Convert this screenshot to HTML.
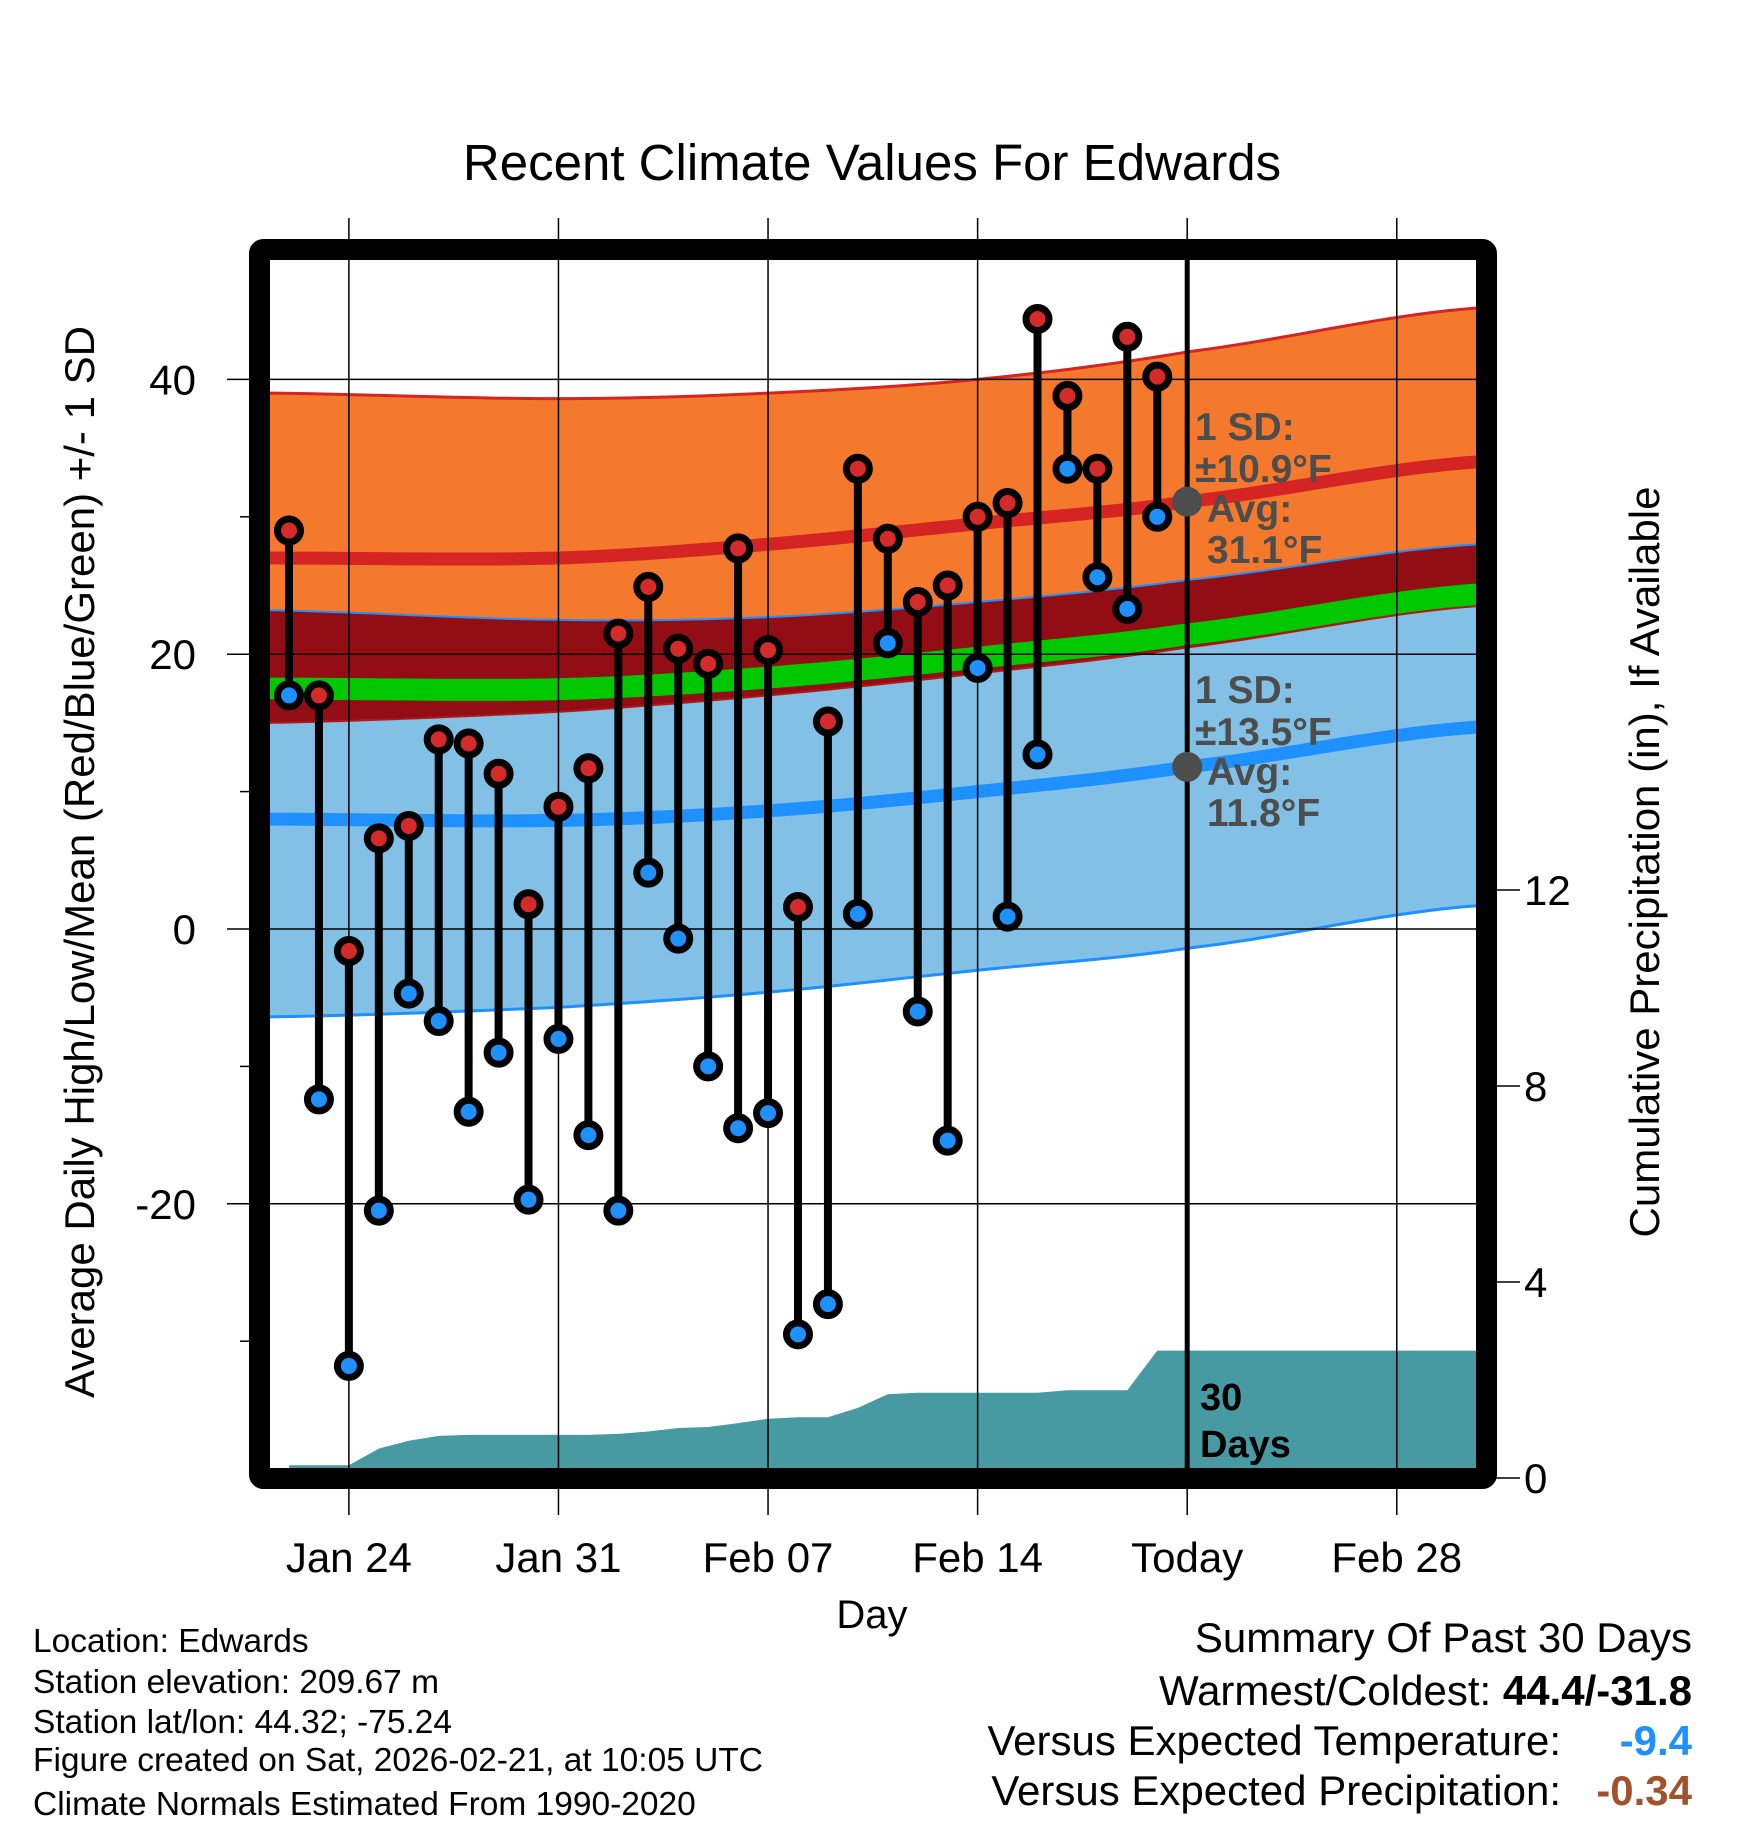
<!DOCTYPE html>
<html><head><meta charset="utf-8"><style>
body{margin:0;background:#fff}
svg{display:block;font-family:"Liberation Sans",Arial,sans-serif}
</style></head><body>
<svg id="c" width="1748" height="1828" viewBox="0 0 1748 1828">
<text x="872" y="180" font-size="51" text-anchor="middle">Recent Climate Values For Edwards</text>
<g id="plot"></g>
<text x="872" y="1628" font-size="40" text-anchor="middle">Day</text>
<text transform="translate(94,862) rotate(-90)" font-size="42" text-anchor="middle">Average Daily High/Low/Mean (Red/Blue/Green) +/- 1 SD</text>
<text transform="translate(1659,862) rotate(-90)" font-size="42" text-anchor="middle">Cumulative Precipitation (in), If Available</text>
<g font-size="33.5">
<text x="33" y="1652">Location: Edwards</text>
<text x="33" y="1693">Station elevation: 209.67 m</text>
<text x="33" y="1733">Station lat/lon: 44.32; -75.24</text>
<text x="33" y="1771">Figure created on Sat, 2026-02-21, at 10:05 UTC</text>
<text x="33" y="1815">Climate Normals Estimated From 1990-2020</text>
</g>
<g font-size="42" text-anchor="end">
<text x="1692" y="1652">Summary Of Past 30 Days</text>
<text x="1692" y="1705">Warmest/Coldest: <tspan font-weight="bold">44.4/-31.8</tspan></text>
<text x="1561" y="1755">Versus Expected Temperature:</text>
<text x="1692" y="1755" fill="#1e90ff" font-weight="bold">-9.4</text>
<text x="1561" y="1805">Versus Expected Precipitation:</text>
<text x="1692" y="1805" fill="#a0522d" font-weight="bold">-0.34</text>
</g>
</svg>
<script>
const days=[0,1,2,3,4,5,6,7,8,9,10,11,12,13,14,15,16,17,18,19,20,21,22,23,24,25,26,27,28,29];
const highs=[29,17,-1.6,6.6,7.5,13.8,13.5,11.3,1.8,8.9,11.7,21.5,24.9,20.4,19.3,27.7,20.3,1.6,15.1,33.5,28.4,23.8,25,30,31,44.4,38.8,33.5,43.1,40.2];
const lows=[17,-12.4,-31.8,-20.5,-4.7,-6.7,-13.3,-9,-19.7,-8,-15,-20.5,4.1,-0.7,-10,-14.5,-13.4,-29.5,-27.3,1.1,20.8,-6,-15.4,19,0.9,12.7,33.5,25.6,23.3,30];
const precip=[0.26,0.26,0.26,0.6,0.76,0.86,0.88,0.88,0.88,0.88,0.88,0.9,0.95,1.02,1.04,1.12,1.21,1.24,1.24,1.43,1.71,1.74,1.74,1.74,1.74,1.74,1.79,1.79,1.79,2.6];
const normDays=[-0.7,9,16,23,30,39.7];
const hiPlus=[39,38.6,39,40,42,45.2];
const hiMean=[27,27,28,29.5,31.1,34];
const hiMinus=[23.2,22.5,22.7,23.8,25.4,28];
const loPlus=[15,15.8,17,18.6,20.5,23.5];
const loMean=[8,7.9,8.6,10,11.8,14.7];
const loMinus=[-6.4,-5.7,-4.6,-3,-1.4,1.7];
const xTickDays=[2,9,16,23,30,37];
const xTickLabels=["Jan 24","Jan 31","Feb 07","Feb 14","Today","Feb 28"];
const yTicks=[40,20,0,-20];
const yMinor=[30,10,-10,-30];
const pTicks=[0,4,8,12];
const todayDay=30;

const X=d=>289+d*29.94;
const Y=v=>929-v*13.74;
const P=v=>1478-v*49;
const NS="http://www.w3.org/2000/svg";
const g=document.getElementById('plot');
function el(t,a,p){const e=document.createElementNS(NS,t);for(const k in a)e.setAttribute(k,a[k]);(p||g).appendChild(e);return e;}
const L=270,R=1477,T=260,B=1468;
const clip=el('clipPath',{id:'cp'});el('rect',{x:L,y:T,width:R-L,height:B-T},clip);
const inner=el('g',{'clip-path':'url(#cp)'});


// smooth interpolation (Catmull-Rom) between normal control values
function interp(a,d){let i=0;while(i<normDays.length-2&&d>normDays[i+1])i++;
const t=(d-normDays[i])/(normDays[i+1]-normDays[i]);
const p0=a[Math.max(i-1,0)],p1=a[i],p2=a[i+1],p3=a[Math.min(i+2,a.length-1)];
return 0.5*((2*p1)+(-p0+p2)*t+(2*p0-5*p1+4*p2-p3)*t*t+(-p0+3*p1-3*p2+p3)*t*t*t);}
function pts(a){const r=[];const d0=normDays[0],d1=normDays[normDays.length-1];for(let k=0;k<=80;k++){const d=d0+(d1-d0)*k/80;r.push(X(d)+','+Y(interp(a,d)));}return r;}
function band(top,bot,fill,name){const p=el('polygon',{points:pts(top).concat(pts(bot).reverse()).join(' '),fill:fill},inner);

}
function line(a,stroke,w,name){const p=el('polyline',{points:pts(a).join(' '),fill:'none',stroke:stroke,'stroke-width':w},inner);

}
band(hiPlus,hiMinus,'#f5792c','high-sd-band');
band(hiMinus,loPlus,'#930d14','overlap-band');
band(loPlus,loMinus,'#82c0e6','low-sd-band');
const gTop=hiMean.map((v,i)=>(v+loMean[i])/2+0.8),gBot=hiMean.map((v,i)=>(v+loMean[i])/2-0.8);
band(gTop,gBot,'#00c800','mean-band');
line(hiPlus,'#d42424',3,'high-plus-line');
line(hiMinus,'#1e90ff',2,'high-minus-line');
line(loMinus,'#1e90ff',3,'low-minus-line');
line(loPlus,'#b01818',2,'low-plus-line');
line(hiMean,'#d42424',13,'high-mean-line');
line(loMean,'#1e90ff',13,'low-mean-line');
// precip
let pp=[X(days[0])+','+B];days.forEach((d,i)=>pp.push(X(d)+','+P(precip[i])));pp.push(R+','+P(precip[precip.length-1]));pp.push(R+','+B);
const pa=el('polygon',{points:pp.join(' '),fill:'#4799a2'},inner);


// grid
xTickDays.forEach((d,i)=>{const l=el('line',{x1:X(d),x2:X(d),y1:218,y2:1515,stroke:'#000','stroke-width':1.5});


const t=el('text',{x:X(d),y:1572,'font-size':42,'text-anchor':'middle'});t.textContent=xTickLabels[i];

});
yTicks.forEach(v=>{const l=el('line',{x1:227,x2:R,y1:Y(v),y2:Y(v),stroke:'#000','stroke-width':1.5});


const t=el('text',{x:196,y:Y(v)+15,'font-size':42,'text-anchor':'end'});t.textContent=v;

});
yMinor.forEach(v=>{const l=el('line',{x1:240,x2:252,y1:Y(v),y2:Y(v),stroke:'#000','stroke-width':1.5});

});
pTicks.forEach(v=>{const l=el('line',{x1:1495,x2:1520,y1:P(v),y2:P(v),stroke:'#000','stroke-width':1.5});


const t=el('text',{x:1524,y:P(v)+15,'font-size':42});t.textContent=v;

});
// today line
const tl=el('line',{x1:X(todayDay),x2:X(todayDay),y1:T,y2:B,stroke:'#000','stroke-width':5});


// stems and markers
days.forEach((d,i)=>{const s=el('line',{x1:X(d),x2:X(d),y1:Y(highs[i]),y2:Y(lows[i]),stroke:'#000','stroke-width':8});

});
days.forEach((d,i)=>{const a=el('circle',{cx:X(d),cy:Y(highs[i]),r:11.5,fill:'#d42a2a',stroke:'#000','stroke-width':7});


const b=el('circle',{cx:X(d),cy:Y(lows[i]),r:11.5,fill:'#1e90ff',stroke:'#000','stroke-width':7});

});
// avg dots and labels
[[hiMean[4],440,'1 SD:','±10.9°F','31.1°F'],[loMean[4],703,'1 SD:','±13.5°F','11.8°F']].forEach(o=>{
const c=el('circle',{cx:X(todayDay),cy:Y(o[0]),r:15,fill:'#4d4d4d'});


const t=el('text',{x:1195,y:o[1],'font-size':39,'font-weight':'bold',fill:'#4d4d4d'});


[[1195,0,o[2]],[1195,42,o[3]],[1207,82,'Avg:'],[1207,123,o[4]]].forEach(q=>{const s=el('tspan',{x:q[0],y:o[1]+q[1]},t);s.textContent=q[2];});});
const dl=el('text',{x:1200,y:1410,'font-size':38,'font-weight':'bold'});


[['30',0],['Days',47]].forEach(q=>{const s=el('tspan',{x:1200,y:1410+q[1]},dl);s.textContent=q[0];});
// frame
const fr=el('rect',{x:259.5,y:249.5,width:1227,height:1229,fill:'none',stroke:'#000','stroke-width':21,rx:4});


</script>
</body></html>
